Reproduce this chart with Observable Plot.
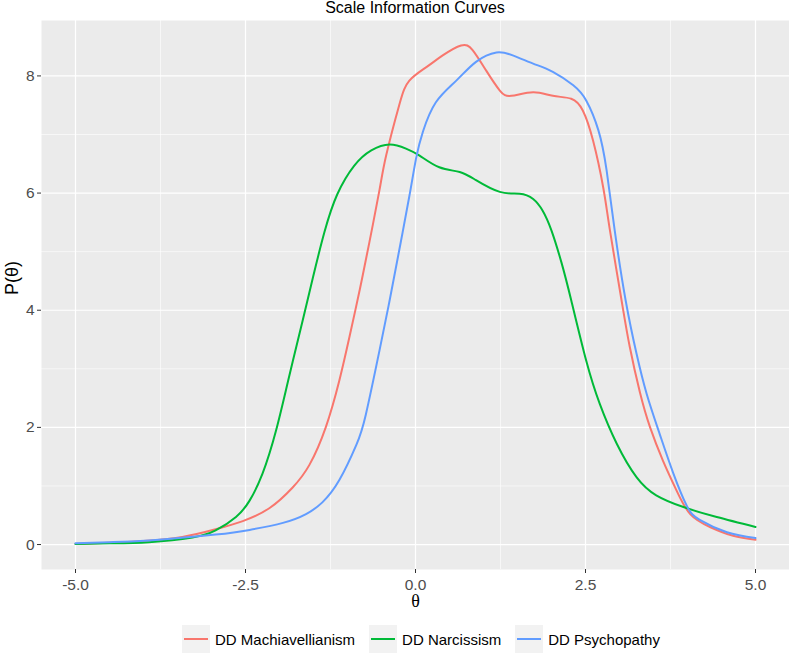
<!DOCTYPE html>
<html>
<head>
<meta charset="utf-8">
<script src="https://cdn.jsdelivr.net/npm/d3@7"></script>
<script src="https://cdn.jsdelivr.net/npm/@observablehq/plot@0.6"></script>
<style>
  body { margin: 0; background: #fff; font-family: "Liberation Sans", Arial, sans-serif; }
  #wrap { width: 789px; height: 653px; overflow: hidden; position: relative; }
  #title { height: 16px; line-height: 16px; font-size: 16px; color: #000; text-align: center; padding-left: 41px; white-space: nowrap; }
  #legend { display: flex; justify-content: center; align-items: center; padding-left: 53px; padding-top: 13px; height: 28px; }
  .item { display: flex; align-items: center; margin: 0 7px; }
  .key { width: 28px; height: 28px; background: #F2F2F2; position: relative; margin-right: 5px; }
  .key span { position: absolute; left: 2px; right: 2px; top: 13px; height: 2px; }
  .lab { font-size: 15px; color: #000; }
</style>
</head>
<body>
<div id="wrap">
  <div id="title">Scale Information Curves</div>
  <div id="chart"></div>
  <div id="legend"></div>
</div>
<script>
// ---- data ----
const seriesNames = ["DD Machiavellianism", "DD Narcissism", "DD Psychopathy"];
const seriesColors = ["#F8766D", "#00BA38", "#619CFF"];

const machTheta = [-5.0, -4.5, -4.0, -3.43, -2.94, -2.54, -2.15, -1.81, -1.56, -1.32, -1.12, -0.97, -0.82, -0.68, -0.53, -0.43, -0.24, -0.09, 0.16, 0.40, 0.67, 0.84, 1.04, 1.24, 1.41, 1.73, 2.02, 2.29, 2.46, 2.61, 2.76, 2.86, 3.03, 3.15, 3.30, 3.45, 3.64, 3.84, 4.04, 4.33, 4.67, 5.0];
const machP     = [0.01, 0.03, 0.06, 0.13, 0.26, 0.40, 0.62, 0.97, 1.36, 2.00, 2.80, 3.55, 4.35, 5.15, 6.05, 6.65, 7.50, 7.92, 8.15, 8.35, 8.52, 8.44, 8.09, 7.75, 7.66, 7.72, 7.66, 7.61, 7.41, 6.90, 6.10, 5.36, 4.17, 3.38, 2.60, 2.00, 1.43, 0.92, 0.52, 0.30, 0.15, 0.08];

const narcTheta = [-5.0, -4.5, -3.92, -3.28, -2.94, -2.64, -2.44, -2.25, -2.05, -1.86, -1.66, -1.51, -1.34, -1.15, -0.9, -0.65, -0.38, -0.14, 0.06, 0.35, 0.65, 0.89, 1.24, 1.53, 1.73, 1.87, 2.00, 2.15, 2.29, 2.51, 2.71, 2.96, 3.25, 3.54, 3.94, 4.43, 5.0];
const narcP     = [0.01, 0.02, 0.04, 0.12, 0.24, 0.47, 0.75, 1.21, 1.95, 2.86, 3.82, 4.55, 5.33, 5.98, 6.47, 6.73, 6.83, 6.76, 6.64, 6.44, 6.36, 6.22, 6.02, 5.99, 5.90, 5.70, 5.36, 4.80, 4.17, 3.14, 2.40, 1.72, 1.15, 0.84, 0.64, 0.47, 0.30];

const psyTheta = [-5.0, -4.5, -3.92, -2.94, -2.44, -1.95, -1.61, -1.37, -1.12, -0.87, -0.73, -0.53, -0.38, -0.24, -0.09, 0.01, 0.11, 0.30, 0.60, 0.89, 1.19, 1.43, 1.73, 2.02, 2.32, 2.51, 2.69, 2.81, 2.93, 3.09, 3.25, 3.40, 3.59, 3.79, 3.99, 4.18, 4.58, 5.0];
const psyP     = [0.02, 0.04, 0.07, 0.17, 0.25, 0.37, 0.52, 0.72, 1.10, 1.70, 2.22, 3.31, 4.17, 5.02, 5.95, 6.60, 7.05, 7.55, 7.92, 8.24, 8.40, 8.35, 8.21, 8.07, 7.84, 7.58, 7.07, 6.39, 5.36, 4.17, 3.26, 2.57, 1.89, 1.22, 0.66, 0.42, 0.21, 0.11];

const xTicks = [-5.0, -2.5, 0.0, 2.5, 5.0];
const xMinor = [-3.75, -1.25, 1.25, 3.75];
const yTicks = [0, 2, 4, 6, 8];
const yMinor = [1, 3, 5, 7];

// ---- build table ----
const rows = [];
[[machTheta, machP], [narcTheta, narcP], [psyTheta, psyP]].forEach(([xs, ys], i) => {
  xs.forEach((t, j) => rows.push({ series: seriesNames[i], theta: t, p: ys[j] }));
});

const chart = Plot.plot({
  width: 789,
  height: 596,
  marginTop: 4,
  marginBottom: 43,
  marginLeft: 41,
  marginRight: 0,
  style: { fontFamily: "'Liberation Sans', Arial, sans-serif", background: "transparent" },
  x: { domain: [-5.5, 5.5] },
  y: { domain: [-0.426, 8.946] },
  color: { domain: seriesNames, range: seriesColors },
  marks: [
    Plot.frame({ fill: "#EBEBEB", stroke: null }),
    Plot.gridX(xMinor, { stroke: "white", strokeOpacity: 1, strokeWidth: 0.6 }),
    Plot.gridY(yMinor, { stroke: "white", strokeOpacity: 1, strokeWidth: 0.6 }),
    Plot.gridX(xTicks, { stroke: "white", strokeOpacity: 1, strokeWidth: 1.2 }),
    Plot.gridY(yTicks, { stroke: "white", strokeOpacity: 1, strokeWidth: 1.2 }),
    Plot.line(rows, { x: "theta", y: "p", z: "series", stroke: "series", strokeWidth: 2, curve: "natural" }),
    Plot.axisX(xTicks, { tickFormat: d => d.toFixed(1), tickSize: 4, tickPadding: 5, stroke: "#333333", fill: "#4D4D4D", fontSize: 15.5, label: null }),
    Plot.axisY(yTicks, { tickFormat: d => String(d), tickSize: 4, tickPadding: 3, stroke: "#333333", fill: "#4D4D4D", fontSize: 15.5, label: null }),
    Plot.text(["P(θ)"], { frameAnchor: "left", dx: -29, rotate: -90, text: d => d, fontSize: 18, fill: "#000" }),
    Plot.text(["θ"], { frameAnchor: "bottom", dy: 32, lineAnchor: "middle", text: d => d, fontSize: 18, fill: "#000", fontFamily: "'Liberation Serif', 'Times New Roman', serif" })
  ]
});
document.getElementById("chart").appendChild(chart);

// ---- legend ----
const legend = document.getElementById("legend");
seriesNames.forEach((name, i) => {
  const item = document.createElement("div");
  item.className = "item";
  const key = document.createElement("div");
  key.className = "key";
  const ln = document.createElement("span");
  ln.style.background = seriesColors[i];
  key.appendChild(ln);
  const lab = document.createElement("div");
  lab.className = "lab";
  lab.textContent = name;
  item.appendChild(key);
  item.appendChild(lab);
  legend.appendChild(item);
});
</script>
</body>
</html>
